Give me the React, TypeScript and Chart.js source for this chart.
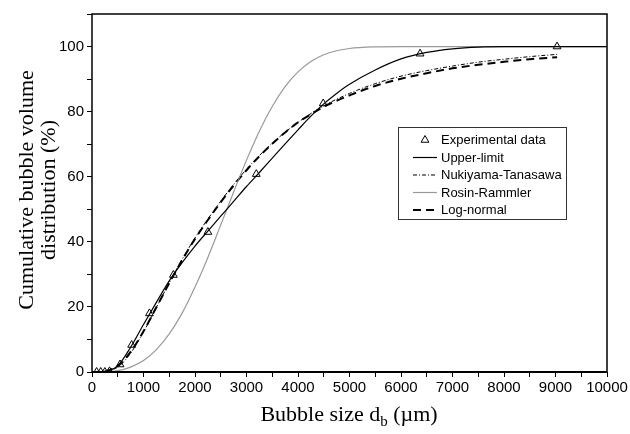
import React, { useEffect, useRef } from 'react';
import { Chart, registerables } from 'chart.js';
Chart.register(...registerables);

// Experimental data (bubble size µm, cumulative %)
const expX = [90, 170, 250, 340, 545, 770, 1115, 1580, 2250, 3190, 4490, 6370, 9030];
const expY = [0, 0, 0, 0.2, 2.3, 8.3, 18, 29.8, 43, 60.8, 82.5, 97.8, 100];

// Upper-limit fit
const ulX = [150, 300, 500, 750, 1000, 1250, 1500, 1750, 2000, 2250, 2500, 2750, 3000, 3250, 3500, 3750, 4000, 4250, 4500, 4750, 5000, 5500, 6000, 6500, 7000, 7500, 8000, 10000];
const ulY = [0, 0.4, 1.9, 7.6, 14.6, 21.4, 28.0, 33.6, 38.7, 43.3, 47.9, 52.4, 57.0, 61.3, 65.7, 70.1, 74.4, 78.6, 82.4, 85.6, 88.4, 92.8, 96.2, 98.2, 99.3, 99.85, 100, 100];

// Nukiyama-Tanasawa fit
const ntX = [250, 500, 750, 1000, 1250, 1500, 1750, 2000, 2250, 2500, 2750, 3000, 3250, 3500, 3750, 4000, 4250, 4500, 5000, 5500, 6000, 6500, 7000, 7500, 8000, 8500, 9030];
const ntY = [0.1, 1.5, 5.8, 12.3, 19.8, 27.4, 34.6, 41.2, 47.0, 52.5, 57.6, 62.3, 66.5, 70.3, 73.7, 76.7, 79.4, 81.8, 85.6, 88.6, 90.9, 92.6, 94.0, 95.2, 96.1, 96.9, 97.6];

// Rosin-Rammler fit
const rrX = [0, 250, 500, 750, 1000, 1250, 1500, 1750, 2000, 2250, 2500, 2750, 3000, 3250, 3500, 3750, 4000, 4250, 4500, 4750, 5000, 5500, 6000, 10000];
const rrY = [0, 0.05, 0.4, 1.5, 3.5, 6.9, 11.7, 18.1, 26.1, 35.2, 45.2, 55.3, 65.1, 74.0, 81.6, 87.7, 92.2, 95.4, 97.5, 98.7, 99.4, 99.9, 100, 100];

// Log-normal fit
const lnX = [250, 500, 750, 1000, 1250, 1500, 1750, 2000, 2250, 2500, 2750, 3000, 3250, 3500, 3750, 4000, 4250, 4500, 5000, 5500, 6000, 6500, 7000, 7500, 8000, 8500, 9030];
const lnY = [0.12, 1.8, 6.2, 12.5, 19.9, 27.3, 34.4, 40.9, 46.7, 52.2, 57.3, 62.0, 66.3, 70.1, 73.6, 76.7, 79.2, 81.5, 85.0, 87.9, 90.1, 91.8, 93.3, 94.4, 95.3, 96.1, 96.7];

const xTickStep = 500;
const yTickStep = 10;

const legendItems = ['Experimental data', 'Upper-limit', 'Nukiyama-Tanasawa', 'Rosin-Rammler', 'Log-normal'];

const zip = (xs: number[], ys: number[]) => xs.map((x, i) => ({ x, y: ys[i] }));

function triangle(ctx: CanvasRenderingContext2D, x: number, y: number, r: number) {
  ctx.beginPath();
  ctx.moveTo(x, y - r);
  ctx.lineTo(x + 0.866 * r, y + 0.5 * r);
  ctx.lineTo(x - 0.866 * r, y + 0.5 * r);
  ctx.closePath();
  ctx.stroke();
}

const decor = {
  id: 'decor',
  afterDraw(chart: any) {
    const ctx: CanvasRenderingContext2D = chart.ctx;
    const a = chart.chartArea;
    ctx.save();
    // frame
    ctx.strokeStyle = '#000';
    ctx.lineWidth = 1.5;
    ctx.strokeRect(a.left, a.top, a.right - a.left, a.bottom - a.top);
    ctx.lineWidth = 2;
    ctx.beginPath();
    ctx.moveTo(a.left, a.bottom);
    ctx.lineTo(a.right, a.bottom);
    ctx.stroke();

    // y title
    ctx.fillStyle = '#000';
    ctx.font = '22px "Liberation Serif", serif';
    ctx.textAlign = 'center';
    ctx.textBaseline = 'middle';
    ctx.save();
    ctx.translate(27, 190);
    ctx.rotate(-Math.PI / 2);
    ctx.fillText('Cumulative bubble volume', 0, 0);
    ctx.fillText('distribution (%)', 0, 22);
    ctx.restore();

    // x title with subscript
    const p1 = 'Bubble size d';
    const sub = 'b';
    const p2 = ' (\u00b5m)';
    ctx.textAlign = 'left';
    ctx.textBaseline = 'alphabetic';
    ctx.font = '22px "Liberation Serif", serif';
    const w1 = ctx.measureText(p1).width;
    const w3 = ctx.measureText(p2).width;
    ctx.font = '15px "Liberation Serif", serif';
    const w2 = ctx.measureText(sub).width;
    const total = w1 + w2 + w3;
    const cx = 349;
    const x0 = cx - total / 2;
    const by = 421;
    ctx.font = '22px "Liberation Serif", serif';
    ctx.fillText(p1, x0, by);
    ctx.font = '15px "Liberation Serif", serif';
    ctx.fillText(sub, x0 + w1, by + 5);
    ctx.font = '22px "Liberation Serif", serif';
    ctx.fillText(p2, x0 + w1 + w2, by);

    // legend
    const lx = 398.5, ly = 127.5, lw = 168, lh = 92;
    ctx.fillStyle = '#fff';
    ctx.fillRect(lx, ly, lw, lh);
    ctx.strokeStyle = '#333';
    ctx.lineWidth = 1;
    ctx.strokeRect(lx, ly, lw, lh);
    ctx.font = '13px "Liberation Sans", Arial, sans-serif';
    ctx.textBaseline = 'middle';
    ctx.fillStyle = '#000';
    const rows = [140, 157.5, 175, 192.5, 210];
    const s0 = 413, s1 = 437;
    legendItems.forEach((t, i) => {
      const y = rows[i];
      ctx.save();
      if (i === 0) {
        ctx.strokeStyle = '#000';
        ctx.lineWidth = 1;
        triangle(ctx, 425, y, 4.5);
      } else {
        ctx.beginPath();
        ctx.moveTo(s0, y);
        ctx.lineTo(s1, y);
        if (i === 1) { ctx.strokeStyle = '#000'; ctx.lineWidth = 1.2; ctx.setLineDash([]); }
        if (i === 2) { ctx.strokeStyle = '#000'; ctx.lineWidth = 1; ctx.setLineDash([4, 2, 1, 2]); }
        if (i === 3) { ctx.strokeStyle = '#999'; ctx.lineWidth = 1.2; ctx.setLineDash([]); }
        if (i === 4) { ctx.strokeStyle = '#000'; ctx.lineWidth = 2.2; ctx.setLineDash([8, 5]); }
        ctx.stroke();
      }
      ctx.restore();
      ctx.fillText(t, 441, y + 0.5);
    });
    ctx.restore();
  },
};

export default function App() {
  const ref = useRef<HTMLCanvasElement>(null);
  useEffect(() => {
    document.body.style.margin = '0';
    const canvas = ref.current!;
    const tickFont = { family: '"Liberation Sans", Arial, sans-serif', size: 15 };
    const chart = new Chart(canvas, {
      type: 'scatter',
      data: {
        datasets: [
          {
            label: 'Experimental data',
            data: zip(expX, expY),
            showLine: false,
            pointStyle: 'triangle',
            pointRadius: 4.5,
            pointBorderWidth: 1,
            borderColor: '#000',
            backgroundColor: 'rgba(255,255,255,0)',
          },
          {
            label: 'Upper-limit',
            data: zip(ulX, ulY),
            showLine: true,
            pointRadius: 0,
            borderColor: '#000',
            borderWidth: 1.2,
            cubicInterpolationMode: 'monotone',
          },
          {
            label: 'Nukiyama-Tanasawa',
            data: zip(ntX, ntY),
            showLine: true,
            pointRadius: 0,
            borderColor: '#000',
            borderWidth: 1,
            borderDash: [4, 2, 1, 2],
            cubicInterpolationMode: 'monotone',
          },
          {
            label: 'Rosin-Rammler',
            data: zip(rrX, rrY),
            showLine: true,
            pointRadius: 0,
            borderColor: '#999',
            borderWidth: 1.2,
            cubicInterpolationMode: 'monotone',
          },
          {
            label: 'Log-normal',
            data: zip(lnX, lnY),
            showLine: true,
            pointRadius: 0,
            borderColor: '#000',
            borderWidth: 2,
            borderDash: [8, 5],
            cubicInterpolationMode: 'monotone',
          },
        ],
      },
      options: {
        responsive: false,
        animation: false,
        layout: { padding: { top: 14, right: 23, left: 0, bottom: 0 } },
        plugins: { legend: { display: false }, tooltip: { enabled: false } },
        scales: {
          x: {
            type: 'linear',
            min: 0,
            max: 10000,
            afterFit: (s: any) => { s.height = 62; },
            ticks: {
              stepSize: xTickStep,
              autoSkip: false,
              maxRotation: 0,
              color: '#000',
              font: tickFont,
              padding: 2,
              callback: (v: any) => (Number(v) % 1000 === 0 ? String(v) : ''),
            },
            grid: { drawOnChartArea: false, drawTicks: true, tickLength: 5, tickColor: '#000', tickWidth: 1 },
            border: { display: false },
          },
          y: {
            type: 'linear',
            min: 0,
            max: 110,
            afterFit: (s: any) => { s.width = 92; },
            ticks: {
              stepSize: yTickStep,
              autoSkip: false,
              color: '#000',
              font: tickFont,
              padding: 3,
              callback: (v: any) => (Number(v) % 20 === 0 && Number(v) <= 100 ? String(v) : ''),
            },
            grid: { drawOnChartArea: false, drawTicks: true, tickLength: 5, tickColor: '#000', tickWidth: 1 },
            border: { display: false },
          },
        },
      },
      plugins: [decor],
    } as any);
    return () => chart.destroy();
  }, []);
  return (
    <div style={{ width: 630, height: 434 }}>
      <canvas ref={ref} width={630} height={434} style={{ width: 630, height: 434, display: 'block' }} />
    </div>
  );
}
